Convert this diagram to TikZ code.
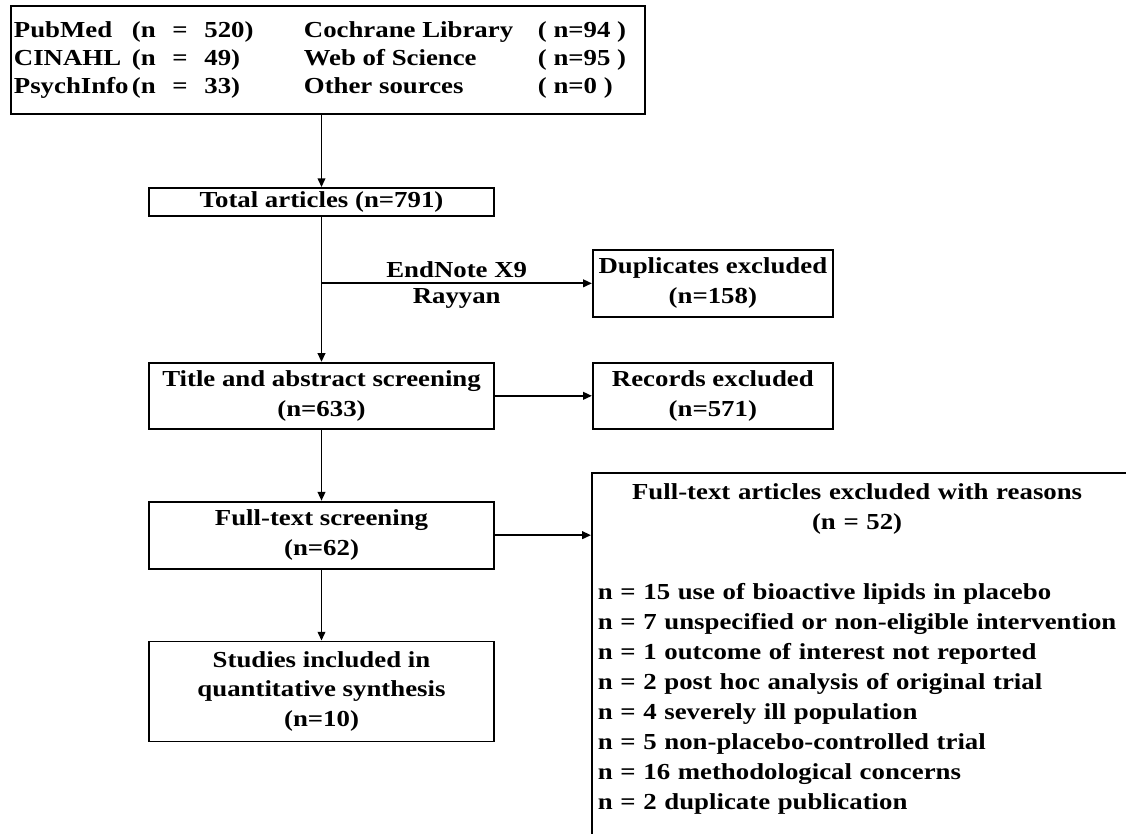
\documentclass[tikz,border=0pt]{standalone}
\usepackage{fontspec}
\setmainfont{Liberation Serif}[FakeStretch=1.17]
\usetikzlibrary{arrows.meta,positioning}

\begin{document}
\begin{tikzpicture}[
  font=\fontsize{16.3}{21.3}\selectfont\bfseries,
  box/.style={draw, line width=1.3pt, align=center, inner sep=2pt, minimum width=8.625cm},
  sidebox/.style={draw, line width=1.3pt, align=center, inner sep=2pt, minimum width=6cm},
  edge/.style={-{Triangle[length=2.2mm,width=1.9mm]}, line width=1.3pt}
]
  \useasboundingbox (0,0) rectangle (28.15,-20.85);
  \clip (0,0) rectangle (28.15,-20.85);
  \node[draw, line width=1.3pt, anchor=north west, inner xsep=0.075cm, inner ysep=0pt, minimum height=2.7cm, font=\fontsize{16.3}{19.9}\selectfont\bfseries] (sources) at (0.25,-0.125) {%
    \begin{tabular}{@{}p{2.95cm}@{}p{4.3cm}@{}p{5.85cm}@{}p{2.6cm}@{}}
      PubMed & (n \hspace{0.25cm}= \hspace{0.25cm}520) & Cochrane Library & ( n=94 )\\
      CINAHL & (n \hspace{0.25cm}= \hspace{0.25cm}49) & Web of Science & ( n=95 )\\
      PsychInfo & (n \hspace{0.25cm}= \hspace{0.25cm}33) & Other sources & ( n=0 )
    \end{tabular}};
  \node[box, minimum height=0.7cm] (total) at (8.0375,-5.05) {Total articles (n=791)};
  \node[box, below=3.625cm of total, minimum height=1.65cm] (title) {Title and abstract screening\\(n=633)};
  \node[box, below=1.775cm of title, minimum height=1.675cm] (full) {Full-text screening\\(n=62)};
  \node[box, below=1.775cm of full, minimum height=2.5cm] (studies) {Studies included in\\quantitative synthesis\\(n=10)};
  \node[sidebox, below right=0.8cm and 2.425cm of total.south east, minimum height=1.675cm] (dup) {Duplicates excluded\\(n=158)};
  \node[sidebox, right=2.425cm of title, minimum height=1.65cm] (records) {Records excluded\\(n=571)};
  \node[draw, line width=1.3pt, anchor=north west, align=left, text width=14cm, inner xsep=0.15cm, inner ysep=0.15cm, text depth=10cm] (excl) at (14.775,-11.8) {%
    \begin{tabular}[t]{@{}l@{}}
      \multicolumn{1}{@{}c@{}}{Full-text articles excluded with reasons}\\
      \multicolumn{1}{@{}c@{}}{(n = 52)}\\[1cm]
      n = 15 use of bioactive lipids in placebo\\
      n = 7 unspecified or non-eligible intervention\\
      n = 1 outcome of interest not reported\\
      n = 2 post hoc analysis of original trial\\
      n = 4 severely ill population\\
      n = 5 non-placebo-controlled trial\\
      n = 16 methodological concerns\\
      n = 2 duplicate publication
    \end{tabular}};
  \draw[edge] (sources.south -| total.north) -- (total.north);
  \draw[edge] (total) -- (title);
  \draw[edge] (total.south |- dup.west) -- node[above]{EndNote X9} node[below]{Rayyan} (dup.west);
  \draw[edge] (title) -- (records);
  \draw[edge] (title) -- (full);
  \draw[edge] (full) -- (full -| excl.west);
  \draw[edge] (full) -- (studies);
\end{tikzpicture}
\end{document}
